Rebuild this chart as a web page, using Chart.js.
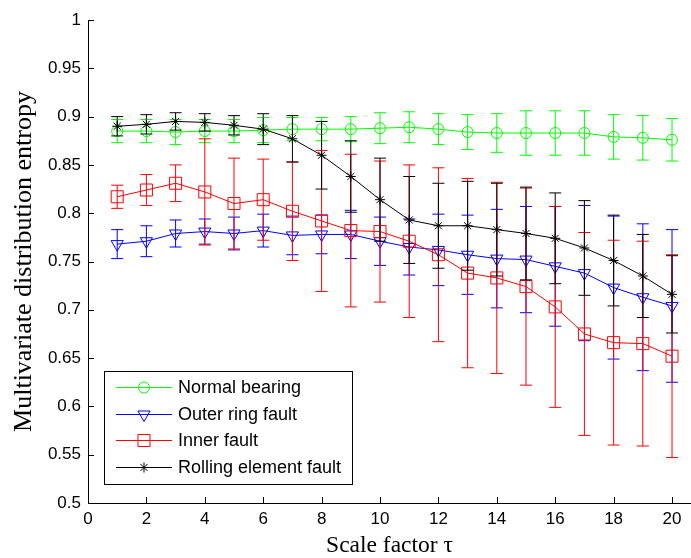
<!DOCTYPE html>
<html>
<head>
<meta charset="utf-8">
<title>Multivariate distribution entropy vs scale factor</title>
<script src="https://cdn.jsdelivr.net/npm/chart.js@4/dist/chart.umd.min.js"></script>
<style>
  html, body { margin: 0; padding: 0; background: #fff; }
  #wrap { width: 691px; height: 558px; }
</style>
</head>
<body>
<div id="wrap"><canvas id="entropyChart" width="691" height="558"></canvas></div>
<script>
// Scale factors and tick labels
const scaleFactors = [1, 2, 3, 4, 5, 6, 7, 8, 9, 10, 11, 12, 13, 14, 15, 16, 17, 18, 19, 20];
const xTicks = [0, 2, 4, 6, 8, 10, 12, 14, 16, 18, 20];
const yTicks = [0.5, 0.55, 0.6, 0.65, 0.7, 0.75, 0.8, 0.85, 0.9, 0.95, 1];

// Series labels
const seriesNames = ["Normal bearing", "Outer ring fault", "Inner fault", "Rolling element fault"];

// Mean entropy per scale factor
const normalMean = [0.885, 0.885, 0.884, 0.885, 0.885, 0.886, 0.887, 0.887, 0.887, 0.888,
  0.889, 0.887, 0.884, 0.883, 0.883, 0.883, 0.883, 0.879, 0.878, 0.876];
const outerMean = [0.768, 0.771, 0.779, 0.781, 0.779, 0.782, 0.777, 0.778, 0.778, 0.771,
  0.765, 0.762, 0.757, 0.753, 0.752, 0.745, 0.738, 0.723, 0.713, 0.704];
const innerMean = [0.817, 0.824, 0.831, 0.822, 0.810, 0.814, 0.802, 0.792, 0.782, 0.781,
  0.771, 0.757, 0.738, 0.733, 0.724, 0.703, 0.675, 0.666, 0.665, 0.652];
const rollingMean = [0.890, 0.892, 0.895, 0.894, 0.891, 0.887, 0.877, 0.860, 0.838, 0.814,
  0.793, 0.787, 0.787, 0.783, 0.779, 0.774, 0.764, 0.751, 0.735, 0.716];

// Error bar half-lengths (standard deviation)
const normalErr = [0.012, 0.012, 0.013, 0.012, 0.012, 0.013, 0.012, 0.012, 0.013, 0.016,
  0.016, 0.016, 0.018, 0.020, 0.023, 0.023, 0.023, 0.023, 0.023, 0.022];
const outerErr = [0.015, 0.016, 0.014, 0.013, 0.017, 0.017, 0.020, 0.020, 0.025, 0.025,
  0.029, 0.037, 0.041, 0.051, 0.055, 0.062, 0.070, 0.074, 0.076, 0.079];
const innerErr = [0.012, 0.016, 0.019, 0.055, 0.047, 0.042, 0.051, 0.073, 0.079, 0.073,
  0.079, 0.090, 0.098, 0.099, 0.102, 0.104, 0.105, 0.106, 0.106, 0.105];
const rollingErr = [0.010, 0.010, 0.009, 0.009, 0.010, 0.016, 0.024, 0.035, 0.037, 0.043,
  0.045, 0.044, 0.046, 0.048, 0.048, 0.047, 0.049, 0.047, 0.043, 0.040];

const SANS = "'Liberation Sans', Arial, sans-serif";
const SERIF = "'Liberation Serif', 'Times New Roman', serif";

function toPoints(means) {
  return scaleFactors.map((s, i) => ({ x: s, y: means[i] }));
}

function makeSeries(label, means, errors, color, style, radius, rotation, order) {
  return {
    label: label,
    data: toPoints(means),
    errors: errors,
    borderColor: color,
    borderWidth: 1,
    backgroundColor: "rgba(0,0,0,0)",
    pointStyle: style,
    pointRadius: radius,
    pointRotation: rotation,
    pointBorderColor: color,
    pointBackgroundColor: "rgba(0,0,0,0)",
    pointBorderWidth: 1,
    tension: 0,
    clip: false,
    order: order,
  };
}

// Draw error bars just before each dataset so the stacking matches the figure
const errorBars = {
  id: "errorBars",
  beforeDatasetDraw(chart, args) {
    const ds = chart.data.datasets[args.index];
    if (!ds.errors) return;
    const xs = chart.scales.x;
    const ys = chart.scales.y;
    const ctx = chart.ctx;
    const cap = 6;
    ctx.save();
    ctx.strokeStyle = ds.borderColor;
    ctx.lineWidth = 1;
    ctx.beginPath();
    ds.data.forEach((p, i) => {
      const px = xs.getPixelForValue(p.x);
      const top = ys.getPixelForValue(p.y + ds.errors[i]);
      const bottom = ys.getPixelForValue(p.y - ds.errors[i]);
      ctx.moveTo(px, top);
      ctx.lineTo(px, bottom);
      ctx.moveTo(px - cap, top);
      ctx.lineTo(px + cap, top);
      ctx.moveTo(px - cap, bottom);
      ctx.lineTo(px + cap, bottom);
    });
    ctx.stroke();
    ctx.restore();
  },
};

// Inward tick marks like the original plot
const innerTicks = {
  id: "innerTicks",
  beforeDatasetsDraw(chart) {
    const { ctx, chartArea } = chart;
    const xs = chart.scales.x;
    const ys = chart.scales.y;
    const len = 6;
    ctx.save();
    ctx.strokeStyle = "#000";
    ctx.lineWidth = 1;
    ctx.beginPath();
    ys.ticks.forEach((t) => {
      const py = Math.round(ys.getPixelForValue(t.value)) + 0.5;
      ctx.moveTo(chartArea.left, py);
      ctx.lineTo(chartArea.left + len, py);
    });
    xs.ticks.forEach((t) => {
      const px = Math.round(xs.getPixelForValue(t.value)) + 0.5;
      ctx.moveTo(px, chartArea.bottom);
      ctx.lineTo(px, chartArea.bottom - len);
    });
    ctx.stroke();
    ctx.restore();
  },
};

// Boxed legend in the lower left corner
const boxLegend = {
  id: "boxLegend",
  afterDraw(chart) {
    const ctx = chart.ctx;
    const box = { x: 104.5, y: 371.5, w: 248, h: 113 };
    ctx.save();
    ctx.fillStyle = "#fff";
    ctx.fillRect(box.x, box.y, box.w, box.h);
    ctx.strokeStyle = "#000";
    ctx.lineWidth = 1;
    ctx.strokeRect(box.x, box.y, box.w, box.h);

    chart.data.datasets.forEach((ds, i) => {
      const rowY = Math.round(387 + i * 26.7) + 0.5;
      ctx.strokeStyle = ds.borderColor;
      ctx.lineWidth = 1;
      ctx.beginPath();
      ctx.moveTo(116, rowY);
      ctx.lineTo(172, rowY);
      ctx.stroke();
      ctx.fillStyle = "rgba(0,0,0,0)";
      Chart.helpers.drawPoint(ctx, {
        pointStyle: ds.pointStyle,
        radius: ds.pointRadius,
        rotation: ds.pointRotation,
        borderWidth: 1,
      }, 144, rowY);
      ctx.fillStyle = "#000";
      ctx.font = "18px " + SANS;
      ctx.textBaseline = "middle";
      ctx.textAlign = "left";
      ctx.fillText(ds.label, 178, rowY + 1);
    });
    ctx.restore();
  },
};

function initChart() {
  const ctx = document.getElementById("entropyChart").getContext("2d");

  new Chart(ctx, {
    type: "line",
    data: {
      datasets: [
        makeSeries(seriesNames[0], normalMean, normalErr, "#00ff00", "circle", 5.5, 0, 3),
        makeSeries(seriesNames[1], outerMean, outerErr, "#0000ff", "triangle", 7, 180, 2),
        makeSeries(seriesNames[2], innerMean, innerErr, "#ff0000", "rect", 8.5, 0, 1),
        makeSeries(seriesNames[3], rollingMean, rollingErr, "#000000", "star", 5, 0, 0),
      ],
    },
    options: {
      responsive: false,
      animation: false,
      devicePixelRatio: 1,
      layout: {
        autoPadding: false,
        padding: { top: 20, right: 0, bottom: 0, left: 0 },
      },
      plugins: {
        legend: { display: false },
        tooltip: { enabled: false },
        title: { display: false },
      },
      scales: {
        x: {
          type: "linear",
          min: 0,
          max: 20.65,
          afterBuildTicks: (scale) => {
            scale.ticks = xTicks.map((v) => ({ value: v }));
          },
          afterFit: (scale) => {
            scale.height = 55;
            scale.paddingLeft = 0;
            scale.paddingRight = 0;
          },
          grid: { display: false, drawTicks: false },
          border: { display: true, color: "#000", width: 1 },
          ticks: {
            color: "#000",
            padding: 6,
            maxRotation: 0,
            font: { family: SANS, size: 17 },
            callback: (v) => String(v),
          },
          title: {
            display: true,
            text: "Scale factor τ",
            color: "#000",
            font: { family: SERIF, size: 23.5, lineHeight: 1 },
            padding: { top: 0, bottom: 0 },
          },
        },
        y: {
          type: "linear",
          min: 0.5,
          max: 1,
          afterBuildTicks: (scale) => {
            scale.ticks = yTicks.map((v) => ({ value: v }));
          },
          afterFit: (scale) => {
            scale.width = 88;
          },
          grid: { display: false, drawTicks: false },
          border: { display: true, color: "#000", width: 1 },
          ticks: {
            color: "#000",
            padding: 7,
            font: { family: SANS, size: 17 },
            callback: (v) => String(+v.toFixed(2)),
          },
          title: {
            display: true,
            text: "Multivariate distribution entropy",
            color: "#000",
            font: { family: SERIF, size: 26, lineHeight: 1 },
            padding: { top: 11, bottom: 0 },
          },
        },
      },
    },
    plugins: [innerTicks, errorBars, boxLegend],
  });
}

document.addEventListener("DOMContentLoaded", initChart);
</script>
</body>
</html>
